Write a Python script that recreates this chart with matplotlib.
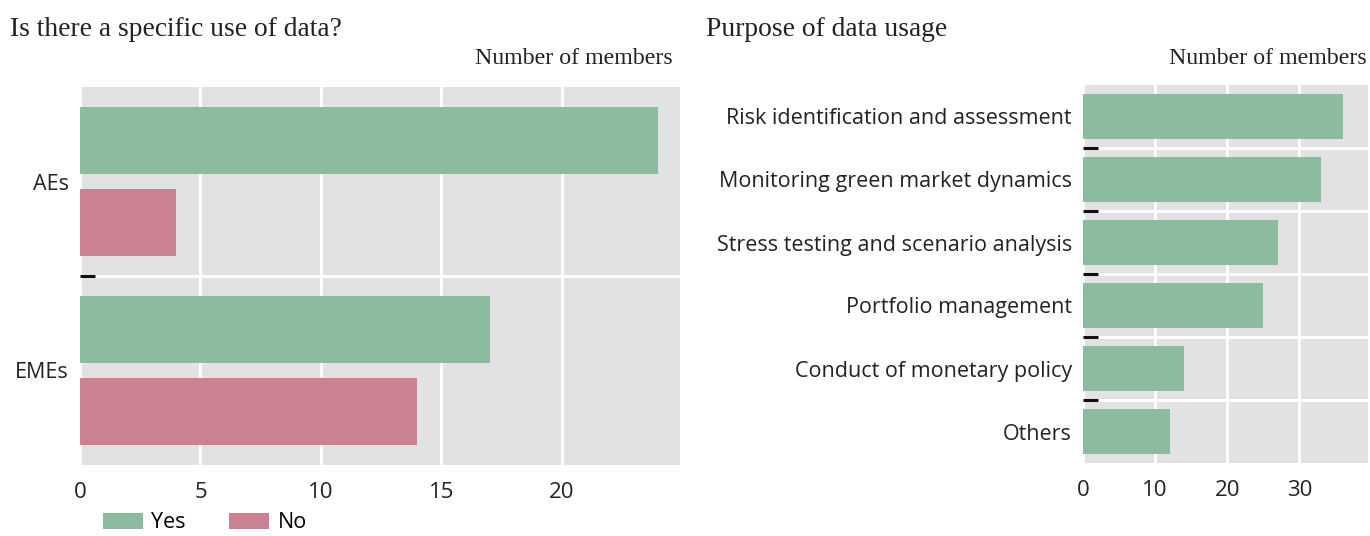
import matplotlib
matplotlib.use("Agg")
import matplotlib.pyplot as plt
from matplotlib.patches import Patch
import numpy as np

# ---- data ----
left_categories = ["AEs", "EMEs"]
left_yes = [24, 17]
left_no = [4, 14]
series_names = ["Yes", "No"]

right_categories = [
    "Risk identification and assessment",
    "Monitoring green market dynamics",
    "Stress testing and scenario analysis",
    "Portfolio management",
    "Conduct of monetary policy",
    "Others",
]
right_values = [36, 33, 27, 25, 14, 12]

left_ticks = [0, 5, 10, 15, 20]
right_ticks = [0, 10, 20, 30]

left_title = "Is there a specific use of data?"
right_title = "Purpose of data usage"
unit_label = "Number of members"

# ---- style ----
GREEN = "#8cbb9f"
PINK = "#cc8193"
BG = "#e2e2e2"
SANS = ["Open Sans", "DejaVu Sans"]
SERIF = ["Liberation Serif", "DejaVu Serif"]
LABEL_FS = 15.5
TICK_FS = 16

fig = plt.figure(figsize=(13.7, 5.36), dpi=100)
fig.patch.set_facecolor("white")


def style_axes(ax, n_cats, xmax, ticks):
    ax.set_facecolor(BG)
    for s in ax.spines.values():
        s.set_visible(False)
    ax.set_xlim(0, xmax)
    ax.set_ylim(n_cats - 0.5, -0.5)
    ax.set_xticks(ticks)
    ax.set_xticklabels([str(t) for t in ticks], fontfamily=SANS, fontsize=TICK_FS, color="#222222")
    ax.tick_params(axis="x", length=0, pad=12)
    ax.tick_params(axis="y", which="major", length=0, pad=8)
    ax.set_yticks(np.arange(n_cats))
    ax.set_yticks(np.arange(n_cats - 1) + 0.5, minor=True)
    ax.tick_params(axis="y", which="minor", direction="in", length=11, width=2.2, color="#111111")
    ax.grid(axis="x", which="major", color="white", linewidth=2.2, zorder=0)
    ax.grid(axis="y", which="minor", color="white", linewidth=2.2, zorder=0)
    ax.set_axisbelow(True)


# ---- left panel ----
axL = fig.add_axes([80 / 1370, 1 - 465 / 536, 600 / 1370, 378 / 536])
style_axes(axL, len(left_categories), 24.9, left_ticks)
y = np.arange(len(left_categories))
axL.barh(y - 0.215, left_yes, height=0.355, color=GREEN, zorder=2)
axL.barh(y + 0.215, left_no, height=0.355, color=PINK, zorder=2)
axL.set_yticklabels(left_categories, fontfamily=SANS, fontsize=LABEL_FS, color="#222222")

# ---- right panel ----
axR = fig.add_axes([1083 / 1370, 1 - 463 / 536, 285 / 1370, 378 / 536])
style_axes(axR, len(right_categories), 39.5, right_ticks)
yr = np.arange(len(right_categories))
axR.barh(yr, right_values, height=0.71, color=GREEN, zorder=2)
axR.set_yticklabels(right_categories, fontfamily=SANS, fontsize=LABEL_FS, color="#222222")

# ---- titles ----
fig.text(10 / 1370, 1 - 30 / 536, left_title, fontfamily=SERIF, fontsize=19.8, va="center", ha="left", color="#222222")
fig.text(706 / 1370, 1 - 30 / 536, right_title, fontfamily=SERIF, fontsize=19.8, va="center", ha="left", color="#222222")
fig.text(673 / 1370, 1 - 58 / 536, unit_label, fontfamily=SERIF, fontsize=17.2, va="center", ha="right", color="#222222")
fig.text(1367 / 1370, 1 - 58 / 536, unit_label, fontfamily=SERIF, fontsize=17.2, va="center", ha="right", color="#222222")

# ---- legend ----
handles = [Patch(facecolor=GREEN, edgecolor="none"), Patch(facecolor=PINK, edgecolor="none")]
fig.legend(handles, series_names, loc="center left", bbox_to_anchor=(103 / 1370, 1 - 523 / 536),
           ncol=2, frameon=False, prop={"family": SANS, "size": LABEL_FS},
           handlelength=1.85, handleheight=0.7, handletextpad=0.4, columnspacing=2.0,
           borderpad=0, borderaxespad=0)

fig.savefig("out.png", dpi=100, facecolor="white")
